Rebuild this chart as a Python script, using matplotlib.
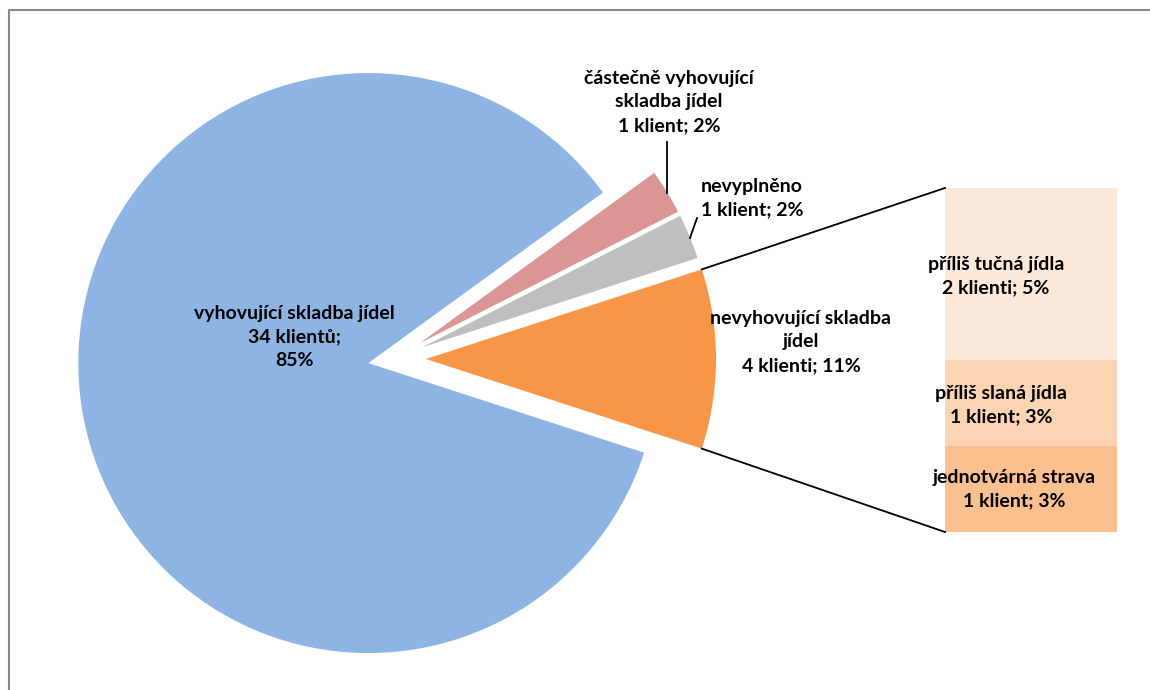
import matplotlib.pyplot as plt
import numpy as np

# main pie data (order counterclockwise from the right)
pie_labels = ['nevyhovující skladba\njídel\n4 klienti; 11%',
              'nevyplněno\n1 klient; 2%',
              'částečně vyhovující\nskladba jídel\n1 klient; 2%',
              'vyhovující skladba jídel\n34 klientů;\n85%']
pie_values = [4, 1, 1, 34]
pie_colors = ['#F79646', '#BFBFBF', '#D99694', '#8EB4E3']

# bar (breakdown of "nevyhovující") from bottom to top
bar_labels = ['jednotvárná strava\n1 klient; 3%',
              'příliš slaná jídla\n1 klient; 3%',
              'příliš tučná jídla\n2 klienti; 5%']
bar_values = [1, 1, 2]
bar_colors = ['#FAC090', '#FBD4B4', '#FDE9D9']

plt.rcParams['font.family'] = ['Lato', 'DejaVu Sans']

fig = plt.figure(figsize=(11.5, 6.9), dpi=100)
ax = fig.add_axes([0, 0, 1, 1])

H = 690
R = 290
center = (394, H - 359)
wedges, _ = ax.pie(pie_values, colors=pie_colors, startangle=-18,
                   counterclock=True, radius=R, center=center,
                   explode=[32, 30, 30, 26],
                   wedgeprops=dict(linewidth=0))
ax.set_xlim(0, 1150)
ax.set_ylim(0, 690)
ax.set_aspect('equal')
ax.axis('off')

# stacked bar
bar_x, bar_w = 1031, 172
unit = 86
bottom = H - 532
for v, c in zip(bar_values, bar_colors):
    ax.bar(bar_x, v * unit, width=bar_w, bottom=bottom, color=c, linewidth=0)
    bottom += v * unit

# connector lines from orange wedge to bar
w = wedges[0]
cx, cy = w.center
for ang, by in [(w.theta2, bottom), (w.theta1, H - 532)]:
    px = cx + w.r * np.cos(np.radians(ang))
    py = cy + w.r * np.sin(np.radians(ang))
    ax.plot([px, bar_x - bar_w / 2], [py, by], color='black', lw=1.3)

fs = 14
ls = 1.45
# pie labels
pie_pos = [(801, 342), (752, 198), (669, 102), (294, 337)]
for lab, (x, y) in zip(pie_labels, pie_pos):
    ax.text(x, H - y, lab, ha='center', va='center', fontsize=fs,
            fontweight='bold', linespacing=ls)

# leader lines
ax.plot([667, 667], [H - 142, H - 193], color='black', lw=1.3)
ax.plot([697, 690], [H - 218, H - 238], color='black', lw=1.3)

# bar labels
bar_pos = [(1014, 489), (1001, 405), (996, 276)]
for lab, (x, y) in zip(bar_labels, bar_pos):
    ax.text(x, H - y, lab, ha='center', va='center', fontsize=fs,
            fontweight='bold', linespacing=ls)

# chart frame
ax.plot([8.5, 8.5, 1150], [0, H - 10, H - 10], color='#898989', lw=1.5,
        clip_on=False)

fig.savefig('out.png', dpi=100, facecolor='white')
